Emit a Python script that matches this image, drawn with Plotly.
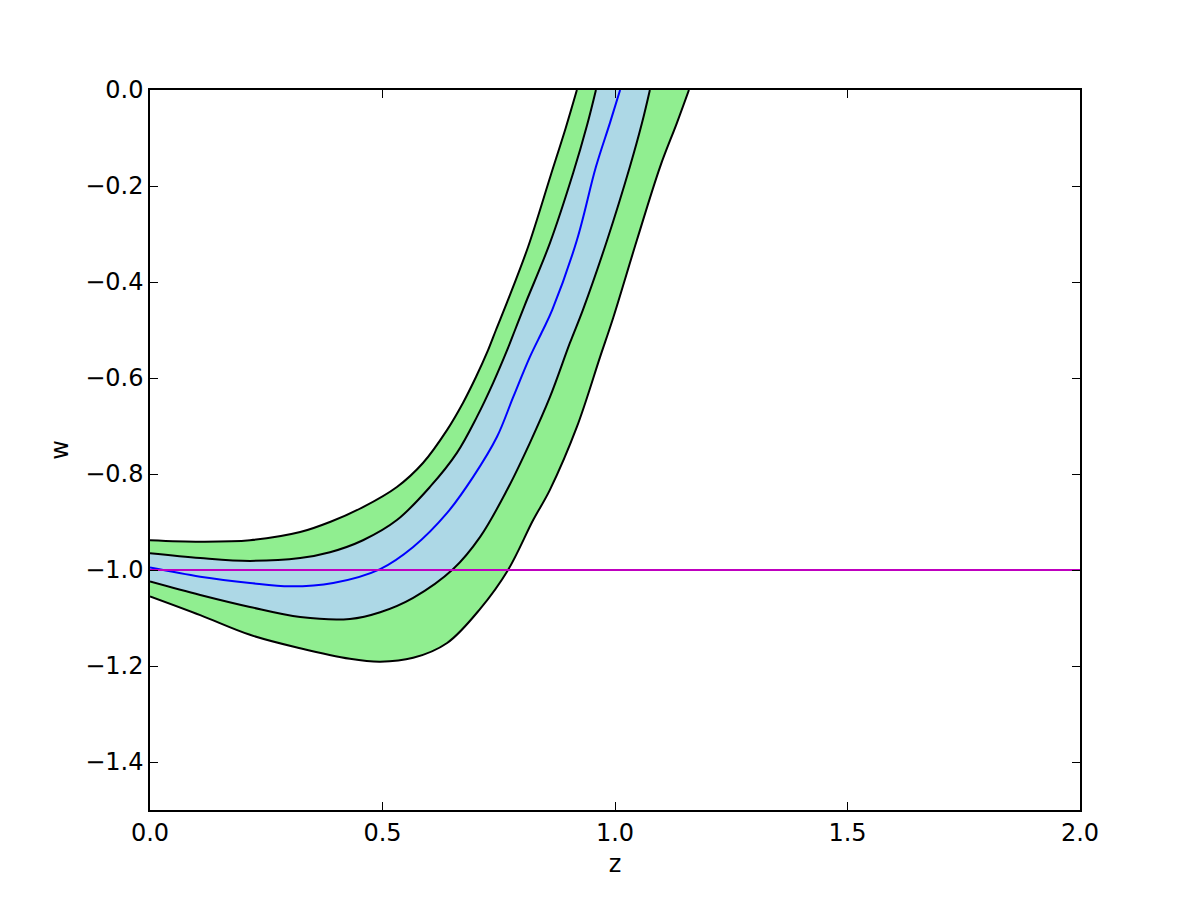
import plotly.graph_objects as go

# ---- data ----
z_outer_up = [0.000, 0.108, 0.215, 0.323, 0.387, 0.458, 0.531, 0.587, 0.639, 0.673, 0.701, 0.727, 0.744, 0.768, 0.813, 0.862, 0.894, 0.918]
w_outer_up = [-0.938, -0.941, -0.938, -0.921, -0.900, -0.869, -0.827, -0.777, -0.708, -0.652, -0.598, -0.542, -0.500, -0.442, -0.327, -0.177, -0.079, 0.000]

z_inner_up = [0.000, 0.108, 0.215, 0.323, 0.387, 0.458, 0.531, 0.602, 0.660, 0.703, 0.738, 0.768, 0.785, 0.806, 0.860, 0.910, 0.940, 0.959]
w_inner_up = [-0.965, -0.975, -0.981, -0.975, -0.963, -0.938, -0.896, -0.827, -0.756, -0.681, -0.610, -0.542, -0.500, -0.448, -0.319, -0.173, -0.073, 0.000]

z_mean = [0.000, 0.108, 0.215, 0.301, 0.394, 0.495, 0.566, 0.639, 0.695, 0.746, 0.781, 0.817, 0.845, 0.865, 0.918, 0.959, 0.989, 1.011]
w_mean = [-0.995, -1.014, -1.027, -1.034, -1.027, -0.998, -0.952, -0.881, -0.806, -0.723, -0.640, -0.556, -0.500, -0.458, -0.313, -0.160, -0.069, 0.000]

z_inner_lo = [0.000, 0.108, 0.215, 0.323, 0.430, 0.495, 0.566, 0.652, 0.710, 0.768, 0.817, 0.860, 0.903, 0.931, 0.983, 1.032, 1.058, 1.075]
w_inner_lo = [-1.024, -1.052, -1.077, -1.098, -1.102, -1.088, -1.058, -0.998, -0.931, -0.833, -0.735, -0.640, -0.527, -0.458, -0.313, -0.160, -0.069, 0.000]

z_outer_lo = [0.000, 0.108, 0.215, 0.323, 0.430, 0.495, 0.566, 0.639, 0.710, 0.770, 0.824, 0.860, 0.918, 0.968, 0.996, 1.047, 1.097, 1.133, 1.159]
w_outer_lo = [-1.055, -1.094, -1.135, -1.163, -1.185, -1.191, -1.183, -1.152, -1.081, -1.000, -0.896, -0.833, -0.702, -0.556, -0.475, -0.313, -0.160, -0.069, 0.000]

z_ref = [0.0, 2.0]
w_ref = [-1.0, -1.0]

x_ticks = [0.0, 0.5, 1.0, 1.5, 2.0]
y_ticks = [0.0, -0.2, -0.4, -0.6, -0.8, -1.0, -1.2, -1.4]

FONT = "DejaVu Sans"
fig = go.Figure()

edge = dict(color="black", width=2, shape="spline", smoothing=1.0)

# outer (green) band
fig.add_trace(go.Scatter(x=z_outer_lo, y=w_outer_lo, mode="lines", line=edge, showlegend=False))
fig.add_trace(go.Scatter(x=z_outer_up, y=w_outer_up, mode="lines", line=edge,
                         fill="tonexty", fillcolor="#90EE90", showlegend=False))
# inner (blue) band
fig.add_trace(go.Scatter(x=z_inner_lo, y=w_inner_lo, mode="lines", line=edge, showlegend=False))
fig.add_trace(go.Scatter(x=z_inner_up, y=w_inner_up, mode="lines", line=edge,
                         fill="tonexty", fillcolor="#ADD8E6", showlegend=False))
# mean
fig.add_trace(go.Scatter(x=z_mean, y=w_mean, mode="lines",
                         line=dict(color="#0000FF", width=2, shape="spline", smoothing=1.0), showlegend=False))
# w = -1 reference
fig.add_trace(go.Scatter(x=z_ref, y=w_ref, mode="lines",
                         line=dict(color="#BF00BF", width=2), showlegend=False))

axis_common = dict(
    showgrid=False, zeroline=False, showline=True, linecolor="black", linewidth=1.5,
    mirror="allticks", ticks="inside", ticklen=8, tickwidth=1, tickcolor="black",
    tickfont=dict(family=FONT, size=24, color="black"), tickformat=".1f",
)

fig.update_layout(
    width=1200, height=900,
    margin=dict(l=150, r=120, t=90, b=90),
    paper_bgcolor="white", plot_bgcolor="white",
    font=dict(family=FONT, color="black"),
    xaxis=dict(range=[0, 2], tickvals=x_ticks,
               title=dict(text="z", font=dict(family=FONT, size=24), standoff=10), **axis_common),
    yaxis=dict(range=[-1.5, 0], tickvals=y_ticks,
               title=dict(text="w", font=dict(family=FONT, size=24), standoff=10), **axis_common),
)

fig.write_html("out.html")
